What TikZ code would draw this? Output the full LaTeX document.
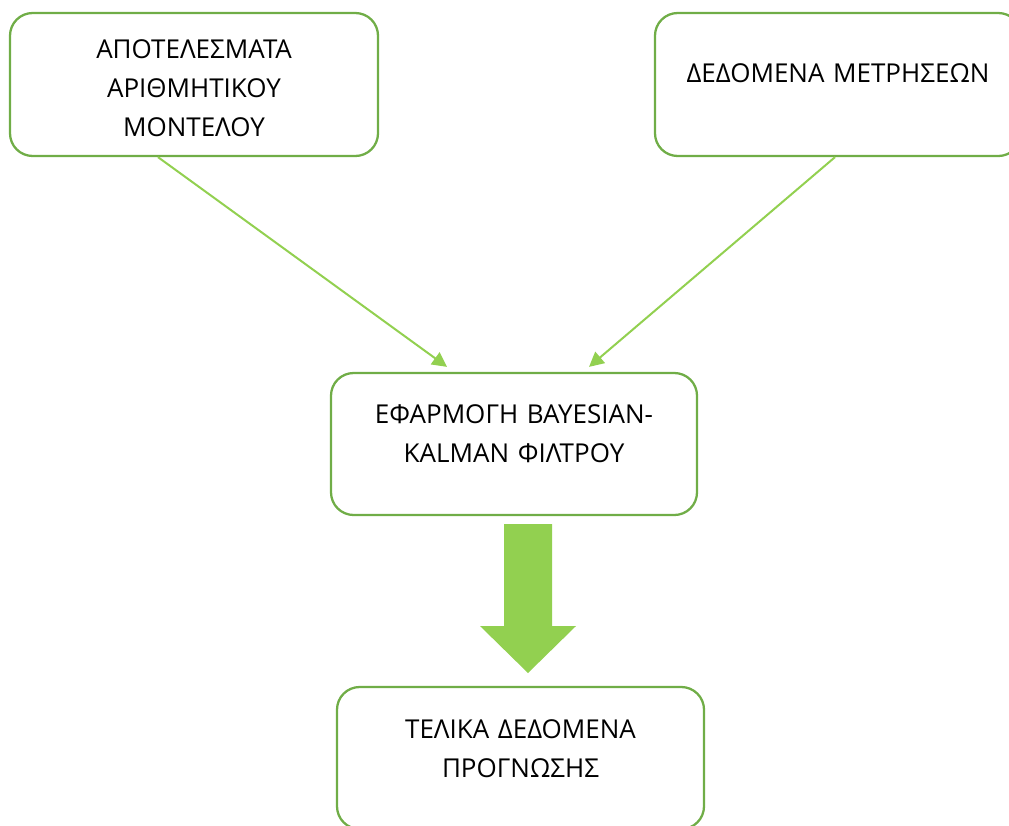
\documentclass[tikz,border=0pt]{standalone}
\usepackage{fontspec}
\setmainfont{Open Sans}
\usetikzlibrary{arrows.meta,calc}
\definecolor{boxgreen}{HTML}{70AD47}
\definecolor{arrgreen}{HTML}{92D050}
\tikzset{
  stage/.style={draw=boxgreen, line width=1.7pt, rounded corners=17pt,
    inner sep=0pt, align=center, anchor=base,
    font=\fontsize{19.5}{29.25}\selectfont},
  feed/.style={draw=arrgreen, line width=1.5pt,
    -{Triangle[length=11pt,width=11pt]}}
}
\begin{document}
\begin{tikzpicture}[x=0.75pt,y=-0.75pt]
      \clip (0,0) rectangle (1009,825);
      \node[stage, text width=276pt, text height=33.75pt, text depth=73.5pt]
        (res) at (194,58) {ΑΠΟΤΕΛΕΣΜΑΤΑ\\ΑΡΙΘΜΗΤΙΚΟΥ\\ΜΟΝΤΕΛΟΥ};
      \node[stage, text width=274.5pt, text height=51.75pt, text depth=55.5pt]
        (mes) at (838,82) {ΔΕΔΟΜΕΝΑ ΜΕΤΡΗΣΕΩΝ};
      \node[stage, text width=274.5pt, text height=37.5pt, text depth=69pt]
        (kal) at (514,423) {ΕΦΑΡΜΟΓΗ BAYESIAN-\\KALMAN ΦΙΛΤΡΟΥ};
      \node[stage, text width=275.25pt, text height=38.25pt, text depth=68.25pt]
        (fin) at (520.5,738) {ΤΕΛΙΚΑ ΔΕΔΟΜΕΝΑ\\ΠΡΟΓΝΩΣΗΣ};
      \begin{scope}[feed]
        \draw ($(res.south)+(-36,0)$) to ($(kal.north)+(-67,-5)$);
        \draw ($(mes.south)+(-3,0)$) to ($(kal.north)+(75,-5)$);
      \end{scope}
      \fill[arrgreen] (504,524) -- (552,524) -- (552,626) -- (576,626)
        -- (528,673) -- (480,626) -- (504,626) -- cycle;
    \end{tikzpicture}
\end{document}
